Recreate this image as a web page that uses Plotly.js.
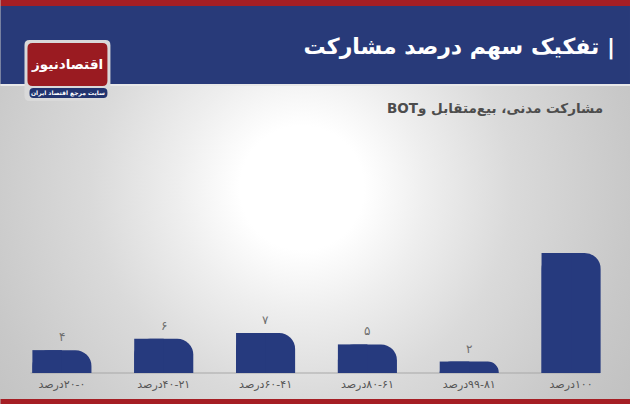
<!DOCTYPE html>
<html><head><meta charset="utf-8">
<script src="https://cdn.plot.ly/plotly-3.0.1.min.js"></script>
<style>
html,body{margin:0;padding:0;}
#chart{width:630px;height:404px;background:radial-gradient(circle at 302px 188px,#ffffff 0px,#ffffff 62px,#eeeeee 125px,#dadada 210px,#c8c8c8 330px,#bebebe 420px);}
</style></head><body><div id="chart"></div>
<script>
// ---- data ----
const categories = ["0-20", "21-40", "41-60", "61-80", "81-99", "100"];
const tickLabels = ["درصد\u200E۲۰-۰", "درصد\u200E۴۰-۲۱", "درصد\u200E۶۰-۴۱", "درصد\u200E۸۰-۶۱", "درصد\u200E۹۹-۸۱", "درصد\u200E۱۰۰"];
const values = [4, 6, 7, 5, 2, 21];
const valueLabels = ["۴", "۶", "۷", "۵", "۲", "۲۱"];
const titleText = "تفکیک سهم درصد مشارکت |";
const subtitleText = "\u202Bمشارکت مدنی، بیع\u200Cمتقابل وBOT\u202C";
const logoText = "اقتصادنیوز";
const logoSub = "سایت مرجع اقتصاد ایران";

// ---- geometry helpers (pixel -> paper) ----
const W = 630, Hgt = 404;
const ML = 10.5, MR = 8, MT = 130, MB = 31;
const PW = W - ML - MR, PH = Hgt - MT - MB;
const px = x => (x - ML) / PW;
const py = y => (Hgt - MB - y) / PH;
function rrect(x0, y0, x1, y1, r) {
  const p = (x, y) => px(x) + ',' + py(y);
  return 'M' + p(x0 + r, y0) + ' L' + p(x1 - r, y0) + ' Q' + p(x1, y0) + ' ' + p(x1, y0 + r) +
    ' L' + p(x1, y1 - r) + ' Q' + p(x1, y1) + ' ' + p(x1 - r, y1) +
    ' L' + p(x0 + r, y1) + ' Q' + p(x0, y1) + ' ' + p(x0, y1 - r) +
    ' L' + p(x0, y0 + r) + ' Q' + p(x0, y0) + ' ' + p(x0 + r, y0) + ' Z';
}
const NAVY = '#263a7e', RED = '#a51e24', LOGORED = '#9a1b21';
const rect = (x0, y0, x1, y1, color) => ({type: 'rect', xref: 'paper', yref: 'paper', x0: px(x0), x1: px(x1), y0: py(y1), y1: py(y0), fillcolor: color, line: {width: 0}, layer: 'below'});

const traces = [
  {type: 'bar', x: categories, y: values, width: 0.58, marker: {color: NAVY, cornerradius: 16, line: {width: 0}}, hoverinfo: 'none'},
  {type: 'bar', x: categories, y: values, width: 0.29, offset: -0.29, marker: {color: NAVY, line: {width: 0}}, hoverinfo: 'none'}
];

const annotations = categories.map((c, i) => ({
  x: c, y: values[i], xref: 'x', yref: 'y', text: valueLabels[i], showarrow: false, yshift: 13,
  font: {family: 'DejaVu Sans', size: 12, color: '#6e6e6e'}
}));
annotations.push({xref: 'paper', yref: 'paper', x: px(605), y: py(108), xanchor: 'right', yanchor: 'middle', showarrow: false,
  text: subtitleText, font: {family: 'DejaVu Sans', size: 13.5, color: '#4d4d4d', weight: 'bold'}});
annotations.push({xref: 'paper', yref: 'paper', x: px(67), y: py(64), xanchor: 'center', yanchor: 'middle', showarrow: false,
  text: logoText, font: {family: 'DejaVu Sans', size: 13.5, color: '#ffffff', weight: 'bold'}});
annotations.push({xref: 'paper', yref: 'paper', x: px(68), y: py(93), xanchor: 'center', yanchor: 'middle', showarrow: false,
  text: logoSub, font: {family: 'DejaVu Sans', size: 6, color: '#ffffff', weight: 'bold'}});

const shapes = [
  rect(0, 6, 630, 84, '#283a79'),
  rect(0, 0, 630, 6, RED),
  rect(0, 84, 630, 86, '#e8e8e8'),
  rect(0, 399, 630, 404, RED),
  {type: 'path', xref: 'paper', yref: 'paper', path: rrect(24, 40, 110, 101, 5), fillcolor: '#d9d9d9', line: {width: 0}, layer: 'above'},
  {type: 'path', xref: 'paper', yref: 'paper', path: rrect(27, 43, 107, 86, 5), fillcolor: LOGORED, line: {width: 0}, layer: 'above'},
  {type: 'path', xref: 'paper', yref: 'paper', path: rrect(29, 88, 107, 98, 4), fillcolor: '#22346f', line: {width: 0}, layer: 'above'},
  {type: 'line', xref: 'paper', yref: 'paper', x0: px(30), x1: px(600), y0: py(373), y1: py(373), line: {color: '#a8a8a8', width: 1.2}, layer: 'below'}
];

const layout = {
  width: W, height: Hgt,
  margin: {l: ML, r: MR, t: MT, b: MB},
  paper_bgcolor: 'rgba(0,0,0,0)', plot_bgcolor: 'rgba(0,0,0,0)',
  barmode: 'overlay', showlegend: false,
  title: {text: titleText, xref: 'container', yref: 'container', x: 615 / W, xanchor: 'right', y: 1 - 46 / Hgt, yanchor: 'middle',
    font: {family: 'DejaVu Sans', size: 22, color: '#ffffff', weight: 'bold'}},
  xaxis: {type: 'category', range: [-0.5, 5.5], showgrid: false, zeroline: false, showline: false, ticks: '', ticklabelstandoff: 3,
    tickvals: categories, ticktext: tickLabels, tickfont: {family: 'DejaVu Sans', size: 11, color: '#555555'}, fixedrange: true},
  yaxis: {range: [0, 42.5], visible: false, fixedrange: true},
  shapes: shapes, annotations: annotations
};

Plotly.newPlot('chart', traces, layout, {displayModeBar: false, staticPlot: true});
</script></body></html>
